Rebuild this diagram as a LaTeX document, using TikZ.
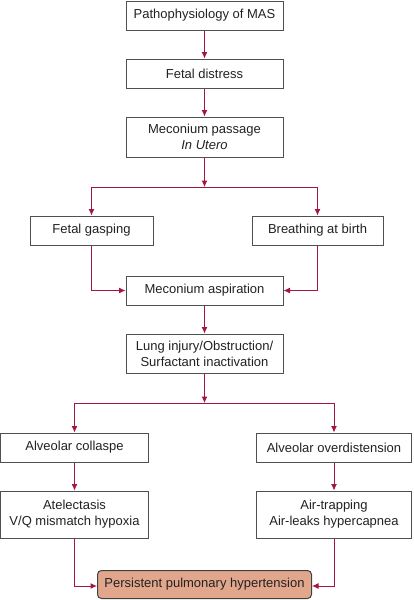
\documentclass[tikz,border=0pt]{standalone}
\usepackage{fontspec}
\setmainfont{Liberation Sans}
\usetikzlibrary{arrows.meta}
\definecolor{arr}{HTML}{A3163E}
\definecolor{bord}{HTML}{505050}
\definecolor{pphfill}{HTML}{E2A68C}
\definecolor{txt}{HTML}{222222}
\tikzset{
  box/.style={draw=bord, line width=1pt, fill=white, inner sep=0pt, align=center,
    text=txt, font=\fontsize{13}{16}\selectfont},
  conn/.style={draw=arr, line width=1pt, -{Latex[length=6.5pt,width=6pt]}},
  link/.style={draw=arr, line width=1pt},
}
\begin{document}
\begin{tikzpicture}[x=1pt,y=-1pt]
\useasboundingbox (0,0) rectangle (413,600);
\node[box, minimum width=157pt, minimum height=29pt] (p) at (204.5,15.5) {Pathophysiology of MAS};
\node[box, minimum width=157pt, minimum height=29pt] (fd) at (204.5,73.5) {Fetal distress};
\node[box, minimum width=157pt, minimum height=40pt] (mp) at (204.5,137) {Meconium passage\\\textit{In Utero}};
\coordinate (b1) at (204.5,187);
\node[box, minimum width=123pt, minimum height=29pt] (fg) at (91.5,230.5) {Fetal gasping};
\node[box, minimum width=131pt, minimum height=29pt] (bb) at (317.5,230.5) {Breathing at birth};
\node[box, minimum width=157pt, minimum height=29pt] (ma) at (204.5,290.5) {Meconium aspiration};
\node[box, minimum width=157pt, minimum height=39pt] (li) at (204.5,353.5) {Lung injury/Obstruction/\\Surfactant inactivation};
\coordinate (b2) at (204.5,403);
\node[box, minimum width=148pt, minimum height=29pt] (ac) at (74.5,447.5) {Alveolar collaspe};
\node[box, minimum width=155pt, minimum height=29pt] (ao) at (334,447.5) {Alveolar overdistension};
\node[box, minimum width=148pt, minimum height=47pt] (at) at (74.5,514.5) {Atelectasis\\V/Q mismatch hypoxia};
\node[box, minimum width=155pt, minimum height=47pt] (atr) at (334,514.5) {Air-trapping\\Air-leaks hypercapnea};
\node[box, draw=bord!80!black, fill=pphfill, rounded corners=4pt, minimum width=214pt, minimum height=28pt] (pph) at (204.5,584.5) {Persistent pulmonary hypertension};

\draw[conn] (p) -- (fd);
\draw[conn] (fd) -- (mp);
\draw[conn] (mp) -- (b1);
\draw[conn] (b1) -| (fg.north);
\draw[conn] (b1) -| (bb.north);
\draw[conn] (fg.south) |- (ma.west);
\draw[conn] (bb.south) |- (ma.east);
\draw[conn] (ma) -- (li);
\draw[conn] (li) -- (b2);
\draw[conn] (b2) -| (ac.north);
\draw[conn] (b2) -| (ao.north);
\draw[conn] (ac) -- (at);
\draw[conn] (ao) -- (atr);
\draw[conn] (at.south) |- ([yshift=-1.5pt]pph.west);
\draw[conn] (atr.south) |- ([yshift=-1.5pt]pph.east);
\end{tikzpicture}
\end{document}
